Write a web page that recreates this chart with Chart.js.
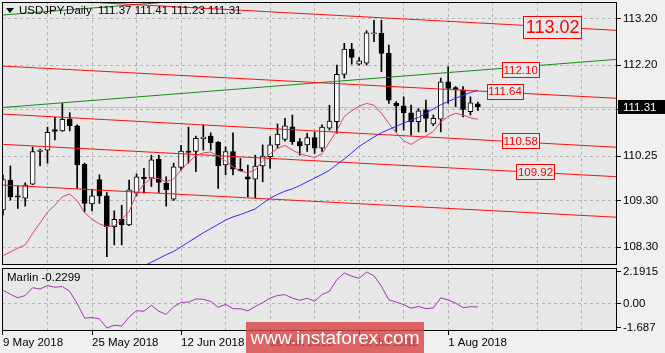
<!DOCTYPE html>
<html>
<head>
<meta charset="utf-8">
<script src="https://cdn.jsdelivr.net/npm/chart.js@4"></script>
<style>
  body { margin: 0; background: #f0f0f0; width: 665px; height: 353px; overflow: hidden; position: relative; }
  canvas { position: absolute; left: 0; }
  #main { top: 0; }
  #sub { top: 267px; }
  .watermark {
    position: absolute; left: 246px; top: 322px; width: 178px; height: 31px;
    background: rgba(216, 70, 70, 0.82); color: #fff; text-align: center;
    font: 19px "Liberation Sans Narrow", "Liberation Sans", Arial, sans-serif; line-height: 31px;
  }
</style>
</head>
<body>
<canvas id="main" width="665" height="267"></canvas>
<canvas id="sub" width="665" height="86"></canvas>
<div class="watermark">www.instaforex.com</div>
<script>
const symbol = "USDJPY,Daily";
const indicatorName = "Marlin";
const tickLabels = ["9 May 2018", "25 May 2018", "12 Jun 2018", "28 Jun 2018", "16 Jul 2018", "1 Aug 2018"];
const labelEvery = 12;

// daily candles, 9 May 2018 .. 7 Aug 2018
const opens = [109.10, 109.74, 109.40, 109.35, 109.65, 110.35, 110.38, 110.82, 110.79, 111.05,
  110.90, 110.08, 109.23, 109.75, 109.40, 108.74, 108.90, 108.78, 109.455, 109.80,
  109.78, 110.19, 109.67, 109.33, 110.01, 110.36, 110.35, 110.62, 110.68, 110.55,
  110.06, 110.35, 109.97, 109.81, 109.755, 110.04, 110.24, 110.49, 110.61, 110.88,
  110.56, 110.49, 110.645, 110.42, 110.85, 110.99, 112.00, 112.54, 112.22, 112.24,
  112.87, 112.88, 112.45, 111.38, 111.33, 111.18, 110.99, 111.24, 110.94, 111.04,
  111.84, 111.72, 111.67, 111.20, 111.37];
const highs = [109.85, 110.04, 109.61, 109.68, 110.45, 110.40, 110.87, 111.08, 111.38, 111.18,
  110.92, 110.10, 109.53, 109.85, 109.47, 109.08, 109.20, 109.74, 109.87, 109.99,
  110.27, 110.27, 109.81, 110.10, 110.48, 110.87, 110.68, 110.92, 110.75, 110.56,
  110.45, 110.75, 110.20, 110.06, 110.27, 110.49, 110.67, 110.94, 111.06, 111.13,
  110.63, 110.74, 110.77, 110.92, 111.34, 112.20, 112.665, 112.665, 112.36, 112.935,
  113.16, 113.16, 112.63, 111.42, 111.52, 111.345, 111.27, 111.45, 111.13, 111.92,
  112.165, 111.74, 111.74, 111.52, 111.41];
const lows = [108.99, 109.31, 109.13, 109.18, 109.64, 110.04, 110.10, 110.60, 110.78, 110.79,
  109.56, 109.06, 109.08, 109.24, 108.10, 108.35, 108.35, 108.76, 109.40, 109.455,
  109.60, 109.47, 109.18, 109.30, 109.95, 110.10, 109.92, 110.38, 110.38, 109.56,
  109.85, 109.85, 109.93, 109.38, 109.35, 109.70, 109.99, 110.42, 110.57, 110.50,
  110.27, 110.35, 110.31, 110.35, 110.81, 110.74, 111.92, 112.22, 112.20, 112.20,
  112.70, 112.06, 111.38, 110.77, 110.81, 110.70, 110.77, 110.77, 110.90, 110.77,
  111.38, 111.31, 111.09, 111.13, 111.23];
const closes = [109.75, 109.38, 109.37, 109.63, 110.35, 110.38, 110.76, 110.78, 111.04, 110.90,
  110.06, 109.24, 109.40, 109.40, 108.74, 108.90, 108.78, 109.53, 109.81, 109.77,
  110.17, 109.69, 109.53, 110.02, 110.36, 110.33, 110.63, 110.66, 110.54, 110.04,
  110.35, 109.97, 109.94, 109.755, 110.04, 110.25, 110.49, 110.72, 110.90, 110.56,
  110.47, 110.645, 110.42, 110.87, 111.00, 112.00, 112.54, 112.365, 112.29, 112.89,
  112.88, 112.45, 111.45, 111.33, 111.18, 110.99, 111.22, 111.06, 111.06, 111.84,
  111.70, 111.68, 111.25, 111.39, 111.31];

// moving averages
const maFast = [108.12, 108.20, 108.28, 108.35, 108.60, 108.82, 109.05, 109.20, 109.38, 109.44,
  109.30, 109.04, 108.90, 108.80, 108.74, 108.76, 108.90, 109.06, 109.45, 109.65,
  109.78, 109.77, 109.70, 109.76, 109.95, 110.12, 110.26, 110.32, 110.34, 110.25,
  110.15, 110.02, 109.93, 109.89, 109.96, 110.15, 110.30, 110.42, 110.48, 110.38,
  110.30, 110.26, 110.22, 110.30, 110.55, 110.80, 111.10, 111.22, 111.32, 111.38,
  111.34, 111.17, 110.95, 110.75, 110.58, 110.50, 110.60, 110.68, 110.78, 110.98,
  111.10, 111.17, 111.13, 111.07, 111.04];
const maSlow = [null, null, null, null, null, null, null, null, null, null,
  null, null, null, null, null, null, null, null, 107.82, 107.90,
  107.98, 108.06, 108.14, 108.21, 108.31, 108.41, 108.51, 108.61, 108.70, 108.79,
  108.88, 108.95, 109.00, 109.06, 109.12, 109.24, 109.35, 109.43, 109.50, 109.55,
  109.62, 109.70, 109.78, 109.86, 109.95, 110.07, 110.19, 110.32, 110.46, 110.56,
  110.66, 110.75, 110.82, 110.89, 110.96, 111.02, 111.08, 111.17, 111.26, 111.35,
  111.42, 111.49, 111.55, 111.61, 111.66];

const marlin = [0.92, 0.65, 0.40, 0.56, 1.10, 1.01, 1.25, 1.13, 1.18, 0.85,
  0.00, -1.00, -0.97, -1.05, -1.687, -1.50, -1.55, -0.94, -0.49, -0.53,
  -0.12, -0.53, -0.75, -0.22, 0.08, 0.10, 0.32, 0.30, 0.15, -0.26,
  -0.05, -0.35, -0.36, -0.50, -0.20, 0.07, 0.38, 0.56, 0.62, 0.38,
  0.23, 0.37, 0.17, 0.62, 0.85, 1.66, 2.12, 1.90, 1.75, 2.1915,
  1.92, 1.20, 0.26, 0.10, -0.07, -0.32, -0.20, -0.35, -0.30, 0.40,
  0.25, 0.03, -0.28, -0.22, -0.2299];

const priceTicks = [108.30, 109.30, 110.25, 111.25, 112.20, 113.20];
const marlinTicks = [-1.687, 0, 2.1915];
const marlinTickText = ["-1.687", "0.00", "2.1915"];

// channel lines: price at bar -1 and at bar 83
const lineBars = [-1, 83];
const redLines = [[113.654, 112.941], [112.186, 111.486], [111.159, 110.438], [110.511, 109.808], [109.640, 108.940]];
const greenLines = [[111.280, 112.326], [113.260, 114.305]];

const levelText = ["113.02", "112.10", "111.64", "110.58", "109.92"];
const levelBar = [74, 69.7, 67.6, 69.7, 71.7];

const X_MIN = -0.13, X_MAX = 82.75;
const Y_MIN = 107.92, Y_MAX = 113.55;
const M_MIN = -1.898, M_MAX = 2.465;
const PLOT_BG = "#e8e8e8";
const GRID = "#b4b4b4";
const FONT = '"Liberation Sans", Arial, sans-serif';

Chart.defaults.font.family = FONT;
Chart.defaults.font.size = 11.5;
Chart.defaults.color = "#000";

const bars = opens.map((_, i) => i);
const gridBars = [];
for (let b = 0; b <= 78; b += 6) gridBars.push(b);

function toPoints(values) {
  return values.map((v, i) => (v == null ? null : { x: i, y: v })).filter(p => p);
}

function lineSet(pair, color, order) {
  return {
    data: [{ x: lineBars[0], y: pair[0] }, { x: lineBars[1], y: pair[1] }],
    borderColor: color, borderWidth: 1, pointRadius: 0, tension: 0, order: order
  };
}

function frame(chart) {
  const { ctx, chartArea: a } = chart;
  ctx.save();
  ctx.strokeStyle = "#000";
  ctx.lineWidth = 1;
  ctx.strokeRect(Math.round(a.left) + 0.5, Math.round(a.top) + 0.5, Math.round(a.width) - 1, Math.round(a.height) - 1);
  ctx.restore();
}

const mainDecor = {
  id: "mainDecor",
  beforeDraw(chart) {
    const { ctx, chartArea: a } = chart;
    ctx.save();
    ctx.fillStyle = PLOT_BG;
    ctx.fillRect(a.left, a.top, a.width, a.height);
    ctx.restore();
  },
  beforeDatasetsDraw(chart) {
    const { ctx, chartArea: a, scales: { y } } = chart;
    const py = Math.round(y.getPixelForValue(closes[closes.length - 1])) + 0.5;
    ctx.save();
    ctx.strokeStyle = "#c0c0c0";
    ctx.lineWidth = 1;
    ctx.beginPath();
    ctx.moveTo(a.left, py);
    ctx.lineTo(a.right, py);
    ctx.stroke();
    ctx.restore();
  },
  afterDraw(chart) {
    const { ctx, chartArea: a, scales: { x, y } } = chart;
    ctx.save();
    // level boxes
    levelText.forEach((t, k) => {
      const big = k === 0;
      ctx.font = (big ? "18px " : "11.5px ") + FONT;
      const w = Math.round(ctx.measureText(t).width + (big ? 4 : 3));
      const h = big ? 22 : 15;
      const cx = x.getPixelForValue(levelBar[k]);
      const cy = y.getPixelForValue(parseFloat(t));
      const left = Math.round(cx - w / 2), top = Math.round(cy - h / 2);
      ctx.fillStyle = PLOT_BG;
      ctx.fillRect(left, top, w, h);
      ctx.strokeStyle = "#ff0000";
      ctx.lineWidth = 1;
      ctx.strokeRect(left + 0.5, top + 0.5, w, h);
      ctx.fillStyle = "#ff0000";
      ctx.textAlign = "center";
      ctx.textBaseline = "middle";
      ctx.fillText(t, cx + 0.5, cy + 1);
    });
    ctx.restore();

    frame(chart);

    ctx.save();
    // title
    ctx.fillStyle = "#000";
    ctx.beginPath();
    ctx.moveTo(a.left + 4, a.top + 6);
    ctx.lineTo(a.left + 12, a.top + 6);
    ctx.lineTo(a.left + 8, a.top + 11);
    ctx.closePath();
    ctx.fill();
    const n = closes.length - 1;
    ctx.font = "11.5px " + FONT;
    ctx.textAlign = "left";
    ctx.textBaseline = "middle";
    ctx.fillText(symbol + "  " + [opens[n], highs[n], lows[n], closes[n]].map(v => v.toFixed(2)).join(" "), a.left + 17, a.top + 9);

    // bid box on the price axis
    const py = Math.round(y.getPixelForValue(closes[n]));
    ctx.fillStyle = "#000";
    ctx.fillRect(a.right + 1, py - 7, chart.width - a.right - 1, 14);
    ctx.fillStyle = "#fff";
    ctx.fillText(closes[n].toFixed(2), a.right + 6, py + 0.5);
    ctx.restore();
  }
};

const subDecor = {
  id: "subDecor",
  beforeDraw(chart) {
    const { ctx, chartArea: a } = chart;
    ctx.save();
    ctx.fillStyle = PLOT_BG;
    ctx.fillRect(a.left, a.top, a.width, a.height);
    ctx.restore();
  },
  afterDraw(chart) {
    const { ctx, chartArea: a } = chart;
    frame(chart);
    ctx.save();
    ctx.fillStyle = "#000";
    ctx.font = "11.5px " + FONT;
    ctx.textAlign = "left";
    ctx.textBaseline = "middle";
    ctx.fillText(indicatorName + " " + marlin[marlin.length - 1].toFixed(4), a.left + 5, a.top + 10);
    ctx.restore();
  }
};

new Chart(document.getElementById("main"), {
  type: "line",
  data: {
    datasets: [
      ...redLines.map(l => lineSet(l, "#ff1010", 1)),
      ...greenLines.map(l => lineSet(l, "#1a8a1a", 1)),
      {
        data: toPoints(maSlow), borderColor: "#2b2bff", borderWidth: 1,
        pointRadius: 0, tension: 0, order: 0
      },
      {
        data: toPoints(maFast), borderColor: "#e0456a", borderWidth: 1,
        pointRadius: 0, tension: 0, order: 0
      },
      {
        type: "bar",
        data: bars.map(i => ({ x: i, y: [lows[i], highs[i]] })),
        backgroundColor: "#000", barThickness: 1, grouped: false, order: 4
      },
      {
        type: "bar",
        data: bars.map(i => ({ x: i, y: [opens[i], closes[i]] })),
        backgroundColor: bars.map(i => (closes[i] >= opens[i] ? "#ffffff" : "#000000")),
        borderColor: "#000", borderWidth: 1, borderSkipped: false,
        barThickness: 5, grouped: false, minBarLength: 1, order: 3
      }
    ]
  },
  options: {
    responsive: false,
    animation: false,
    layout: { padding: { left: 2, top: 2, right: 0, bottom: 2 } },
    plugins: { legend: { display: false }, tooltip: { enabled: false } },
    scales: {
      x: {
        type: "linear", min: X_MIN, max: X_MAX, offset: false,
        afterBuildTicks: s => { s.ticks = gridBars.map(v => ({ value: v })); },
        afterFit: s => { s.height = 0; s.paddingLeft = 0; s.paddingRight = 0; },
        ticks: { display: false },
        grid: { color: GRID, drawTicks: false, offset: false },
        border: { display: false, dash: [3, 3] }
      },
      y: {
        position: "right", min: Y_MIN, max: Y_MAX,
        afterBuildTicks: s => { s.ticks = priceTicks.map(v => ({ value: v })); },
        afterFit: s => { s.width = 48; s.paddingTop = 0; s.paddingBottom = 0; },
        ticks: { padding: 2, callback: v => v.toFixed(2) },
        grid: { color: GRID, tickColor: "#000", tickLength: 4, tickBorderDash: [] },
        border: { display: false, dash: [3, 3] }
      }
    }
  },
  plugins: [mainDecor]
});

new Chart(document.getElementById("sub"), {
  type: "line",
  data: {
    datasets: [{
      data: marlin.map((v, i) => ({ x: i, y: v })),
      borderColor: "#a535b5", borderWidth: 1, pointRadius: 0, tension: 0
    }]
  },
  options: {
    responsive: false,
    animation: false,
    layout: { padding: { left: 2, top: 1, right: 0, bottom: 0 } },
    plugins: { legend: { display: false }, tooltip: { enabled: false } },
    scales: {
      x: {
        type: "linear", min: X_MIN, max: X_MAX, offset: false,
        afterBuildTicks: s => { s.ticks = gridBars.map(v => ({ value: v })); },
        afterFit: s => { s.height = 22; s.paddingLeft = 0; s.paddingRight = 0; },
        ticks: {
          autoSkip: false, maxRotation: 0, align: "start", padding: 1,
          callback: v => (v % labelEvery === 0 ? (tickLabels[v / labelEvery] || "") : "")
        },
        grid: {
          color: GRID, tickLength: 4, tickBorderDash: [], offset: false,
          tickColor: c => (c.tick && c.tick.value % labelEvery === 0 && c.tick.value / labelEvery < tickLabels.length ? "#000" : "rgba(0,0,0,0)")
        },
        border: { display: false, dash: [3, 3] }
      },
      y: {
        position: "right", min: M_MIN, max: M_MAX,
        afterBuildTicks: s => { s.ticks = marlinTicks.map(v => ({ value: v })); },
        afterFit: s => { s.width = 48; s.paddingTop = 0; s.paddingBottom = 0; },
        ticks: { padding: 2, callback: (v, i) => marlinTickText[i] },
        grid: {
          color: c => (c.tick && c.tick.value === 0 ? GRID : "rgba(0,0,0,0)"),
          tickColor: "#000", tickLength: 4, tickBorderDash: []
        },
        border: { display: false, dash: [3, 3] }
      }
    }
  },
  plugins: [subDecor]
});
</script>
</body>
</html>
